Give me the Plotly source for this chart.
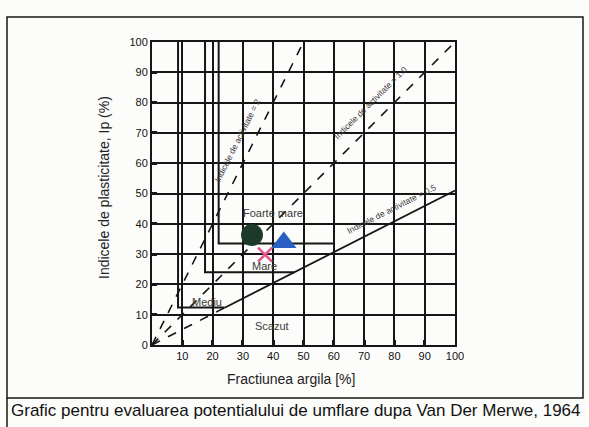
import plotly.graph_objects as go

# Axis ticks
x_ticks = [10, 20, 30, 40, 50, 60, 70, 80, 90, 100]
y_ticks = [0, 10, 20, 30, 40, 50, 60, 70, 80, 90, 100]

# Activity lines (Ip = A * clay fraction)
act2_x, act2_y = [0, 50], [0, 100]
act1_x, act1_y = [0, 100], [0, 100]
act05_dash_x, act05_dash_y = [0, 24], [0, 12.3]
act05_x, act05_y = [24, 100], [12.3, 51]

# Zone boundaries (stepped lines)
fm_x, fm_y = [22, 22, 60], [100, 33.5, 33.5]      # Foarte mare / Mare
mare_x, mare_y = [17.5, 17.5, 47], [100, 24, 24]  # Mare / Mediu
med_x, med_y = [8.6, 8.6, 24], [100, 12.4, 12.4]  # Mediu / Scazut

# Samples
pt_circle = (33, 36.3)
pt_triangle = (43.5, 33.8)
pt_cross = (37.3, 29.8)

INK = "#161616"
FONT = "Liberation Sans, Arial, sans-serif"

W, H = 589, 427
L, R, T, B = 152, 134, 42, 82
PW, PH = W - L - R, H - T - B


def px(x):
    return (x - L) / PW


def py(y):
    return (H - B - y) / PH


fig = go.Figure()


def line(xs, ys, dash="solid", width=1.8):
    fig.add_trace(go.Scatter(x=xs, y=ys, mode="lines",
                             line=dict(color=INK, width=width, dash=dash),
                             hoverinfo="skip", showlegend=False))


line(act2_x, act2_y, dash="dash", width=1.6)
line(act1_x, act1_y, dash="dash", width=1.6)
line(act05_dash_x, act05_dash_y, dash="dash", width=1.6)
line(act05_x, act05_y, width=1.8)
line(fm_x, fm_y, width=2)
line(mare_x, mare_y, width=2)
line(med_x, med_y, width=2)

fig.add_trace(go.Scatter(x=[pt_circle[0]], y=[pt_circle[1]], mode="markers",
                         marker=dict(symbol="circle", size=22, color="#1d3a29"),
                         showlegend=False))
fig.add_trace(go.Scatter(x=[pt_triangle[0]], y=[pt_triangle[1]], mode="markers",
                         marker=dict(symbol="triangle-up", size=22, color="#2a5fc4"),
                         showlegend=False))
fig.add_trace(go.Scatter(x=[pt_cross[0]], y=[pt_cross[1]], mode="markers",
                         marker=dict(symbol="x-thin", size=14,
                                     line=dict(color="#e2558e", width=2.5)),
                         showlegend=False))

zone_font = dict(family=FONT, size=11, color="#3a3a3a")
for txt, x, y in [("Foarte mare", 40, 43.6), ("Mare", 37, 26),
                  ("Mediu", 18, 14.2), ("Scazut", 39.6, 6.3)]:
    fig.add_annotation(x=x, y=y, text=txt, showarrow=False, font=zone_font)

lab_font = dict(family=FONT, size=8.5, color="#3a3a3a")
fig.add_annotation(x=28.4, y=67.5, text="Indicele de activitate = 2", textangle=-63.4,
                   showarrow=False, font=lab_font)
fig.add_annotation(x=72, y=80, text="Indicele de activitate = 1.0", textangle=-45,
                   showarrow=False, font=lab_font)
fig.add_annotation(x=79, y=45, text="Indicele de activitate = 0.5", textangle=-27,
                   showarrow=False, font=lab_font)

axis_common = dict(range=[0, 100], showgrid=True, gridcolor=INK, gridwidth=2,
                   showline=True, linecolor=INK, linewidth=2, mirror=True,
                   zeroline=False, ticks="inside", ticklen=5, tickwidth=3, tickcolor=INK,
                   tickfont=dict(family=FONT, size=11, color="#111"))
fig.update_xaxes(tickvals=x_ticks, **axis_common)
fig.update_yaxes(tickvals=y_ticks, **axis_common)

fig.add_annotation(xref="paper", yref="paper", x=px(291), y=py(379),
                   xanchor="center", yanchor="middle",
                   text="Fractiunea argila [%]", showarrow=False,
                   font=dict(family=FONT, size=14, color="#222"))
fig.add_annotation(xref="paper", yref="paper", x=px(104), y=py(188),
                   xanchor="center", yanchor="middle", textangle=-90,
                   text="Indicele de plasticitate, Ip (%)", showarrow=False,
                   font=dict(family=FONT, size=14, color="#222"))

# Frame and caption
fig.add_shape(type="rect", xref="paper", yref="paper", x0=px(7), x1=px(583),
              y0=py(398), y1=py(17), line=dict(color=INK, width=1.5))
fig.add_shape(type="line", xref="paper", yref="paper", x0=px(7), x1=px(7),
              y0=py(398), y1=py(427), line=dict(color=INK, width=1.5))
fig.add_annotation(xref="paper", yref="paper", x=px(9), y=py(410), xanchor="left",
                   yanchor="middle",
                   text="Grafic pentru evaluarea potentialului de umflare dupa Van Der Merwe, 1964",
                   showarrow=False, font=dict(family=FONT, size=17, color="#111"))

fig.update_layout(width=W, height=H, margin=dict(l=L, r=R, t=T, b=B),
                  paper_bgcolor="#fcfcfa", plot_bgcolor="#fcfcfa")

fig.write_html("out.html")
